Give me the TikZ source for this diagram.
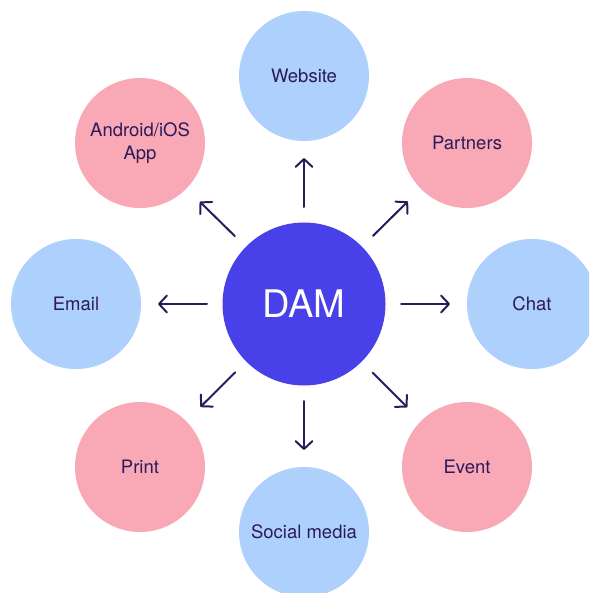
\documentclass[tikz,border=0pt]{standalone}
\usepackage{fontspec}
\setmainfont{TeX Gyre Heros}
\usetikzlibrary{arrows.meta,calc}
\definecolor{hubblue}{HTML}{4840E8}
\definecolor{skyfill}{HTML}{AED0FC}
\definecolor{rosefill}{HTML}{F9A9B5}
\definecolor{inkdark}{HTML}{2B1A5C}
\begin{document}
\begin{tikzpicture}[x=1pt,y=-1pt,
  hub/.style={circle,fill=hubblue,minimum size=163pt,inner sep=0pt,
    text=white,font=\fontsize{38}{40}\selectfont},
  channel/.style={circle,minimum size=130pt,inner sep=0pt,text=inkdark,
    align=center,font=\fontsize{18.5}{23}\selectfont},
  blue/.style={channel,fill=skyfill},
  rose/.style={channel,fill=rosefill},
  flow/.style={draw=inkdark,line width=2pt,line cap=round,
    -{Straight Barb[length=8pt,width=17pt,line cap=round,line join=round]}}
]
\useasboundingbox (0,0) rectangle (589,593);
\clip (0,0) rectangle (589,593);

% central hub
\node[hub] (dam) at (304,304) {DAM};

% channels around the hub
\node[blue] (web)    at (304,76)  {Website};
\node[rose] (part)   at (467,143) {Partners};
\node[blue] (chat)   at (532,304) {Chat};
\node[rose] (event)  at (467,467) {Event};
\node[blue] (social) at (304,532) {Social media};
\node[rose] (print)  at (140,467) {Print};
\node[blue] (email)  at (76,304)  {Email};
\node[rose] (app)    at (140,143) {Android/iOS\\App};

% short arrows radiating from the hub toward each channel
\foreach \target in {web,part,chat,event,social,print,email,app}{
  \draw[flow] ($(dam.center)!97pt!(\target.center)$) -- ($(dam.center)!146pt!(\target.center)$);
}
\end{tikzpicture}
\end{document}
